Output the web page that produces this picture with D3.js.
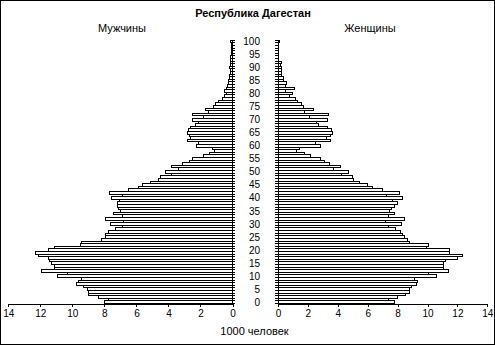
<!DOCTYPE html>
<html><head><meta charset="utf-8">
<script src="https://cdn.jsdelivr.net/npm/d3@7"></script>
<style>
body{margin:0;background:#fff;}
text{font-family:Arial,"Liberation Sans",sans-serif;fill:#000;}
</style></head>
<body><svg id="c" width="495" height="345"></svg>
<script>
const title = "Республика Дагестан";
const maleLabel = "Мужчины";
const femaleLabel = "Женщины";
const xTitle = "1000 человек";
const ages = d3.range(0, 101);
const ageTickLabels = [0,5,10,15,20,25,30,35,40,45,50,55,60,65,70,75,80,85,90,95,100];
const xTickValues = [0,2,4,6,8,10,12,14];
const males = [8.0,7.75,8.35,9.0,9.0,9.05,9.3,9.75,9.6,9.4,
 10.9,10.3,11.9,11.1,11.1,11.3,11.4,11.5,12.1,12.3,
 11.5,11.1,9.5,9.4,8.2,7.9,7.9,7.75,7.3,6.85,
 7.6,6.8,7.9,6.9,7.45,7.0,7.1,7.2,7.2,7.05,
 7.55,6.9,7.7,6.5,5.85,5.6,5.1,4.6,4.5,3.8,
 4.2,3.4,3.8,3.1,2.7,2.5,1.8,1.45,1.1,1.25,
 2.25,2.1,2.8,2.65,2.7,2.8,2.75,2.6,2.3,2.1,
 2.5,1.8,2.5,1.5,1.7,1.2,1.05,0.85,0.65,0.5,
 0.4,0.5,0.35,0.3,0.25,0.25,0.2,0.2,0.15,0.15,
 0.2,0.12,0.1,0.1,0.1,0.08,0.07,0.06,0.05,0.05,0.1];
const females = [7.8,7.4,8.0,8.5,8.8,8.8,8.93,9.27,9.33,9.13,
 10.6,10.07,11.4,11.1,11.1,11.1,11.2,12.0,12.33,11.5,
 11.45,9.9,10.07,8.8,8.67,8.47,8.33,8.18,7.87,7.38,
 8.27,7.18,8.47,7.38,7.78,7.44,7.58,7.8,8.0,7.64,
 8.3,7.24,8.1,7.0,6.33,5.98,5.47,5.04,4.98,4.24,
 4.73,3.7,4.19,3.43,3.1,2.85,2.18,1.8,1.25,1.43,
 2.85,2.5,3.5,3.23,3.5,3.66,3.6,3.3,2.7,2.6,
 3.3,2.1,3.4,1.8,2.4,1.7,1.6,1.3,1.2,0.75,
 1.0,0.5,1.1,0.5,0.55,0.35,0.35,0.25,0.25,0.25,
 0.25,0.2,0.22,0.05,0.05,0.05,0.05,0.05,0.05,0.05,0.1];

const svg = d3.select("#c");
svg.append("rect").attr("x",0.5).attr("y",0.5).attr("width",494).attr("height",344)
  .attr("fill","#fff").attr("stroke","#000");

const y = d3.scaleBand().domain(ages.slice().reverse()).range([40.2, 303.6]).paddingInner(0);
const xL = d3.scaleLinear().domain([0,14]).range([232.5, 8.3]);
const xR = d3.scaleLinear().domain([0,14]).range([278, 487.3]);

const data = ages.map((a,i)=>({age:a, m:males[i], f:females[i]}));

svg.append("g").selectAll("rect").data(data).join("rect")
  .attr("x", d=>xL(d.m)).attr("y", d=>y(d.age))
  .attr("width", d=>xL(0)-xL(d.m)).attr("height", y.bandwidth())
  .attr("fill","#fff").attr("stroke","#000").attr("stroke-width",1)
  .attr("shape-rendering","crispEdges");
svg.append("g").selectAll("rect").data(data).join("rect")
  .attr("x", xR(0)).attr("y", d=>y(d.age))
  .attr("width", d=>xR(d.f)-xR(0)).attr("height", y.bandwidth())
  .attr("fill","#fff").attr("stroke","#000").attr("stroke-width",1)
  .attr("shape-rendering","crispEdges");

// vertical axes
const yTop = y.range()[0], yBot = y.range()[1];
const bounds = ages.map(a=>y(a)).concat([yBot]);
const vL = svg.append("g").attr("shape-rendering","crispEdges");
vL.append("line").attr("x1",xL(0)).attr("x2",xL(0)).attr("y1",yTop).attr("y2",yBot).attr("stroke","#000");
vL.selectAll("line.t").data(bounds).join("line").attr("class","t")
  .attr("x1",xL(0)).attr("x2",xL(0)+2).attr("y1",d=>d).attr("y2",d=>d).attr("stroke","#000");
const vR = svg.append("g").attr("shape-rendering","crispEdges");
vR.append("line").attr("x1",xR(0)).attr("x2",xR(0)).attr("y1",yTop).attr("y2",yBot).attr("stroke","#000");
vR.selectAll("line.t").data(bounds).join("line").attr("class","t")
  .attr("x1",xR(0)-3).attr("x2",xR(0)).attr("y1",d=>d).attr("y2",d=>d).attr("stroke","#000");

// age labels
svg.append("g").selectAll("text").data(ageTickLabels).join("text")
  .attr("x",260).attr("y",d=>y(d)+y.bandwidth()/2).attr("dy","0.35em")
  .attr("text-anchor","end").attr("font-size","10px").text(d=>d);

// bottom axes
const axL = svg.append("g").attr("transform",`translate(0,${yBot})`)
  .call(d3.axisBottom(xL).tickValues(xTickValues).tickSizeOuter(0).tickSize(3).tickPadding(3));
const axR = svg.append("g").attr("transform",`translate(0,${yBot})`)
  .call(d3.axisBottom(xR).tickValues(xTickValues).tickSizeOuter(0).tickSize(3).tickPadding(3));
[axL,axR].forEach(ax=>{
  ax.selectAll("text").attr("font-size","10px").attr("font-family",'Arial,"Liberation Sans",sans-serif').attr("fill","#000");
  ax.selectAll("line,path").attr("stroke","#000").attr("shape-rendering","crispEdges");
});

svg.append("text").attr("x",253).attr("y",17).attr("text-anchor","middle")
  .attr("font-size","11px").attr("font-weight","bold").text(title);
svg.append("text").attr("x",122).attr("y",32).attr("text-anchor","middle")
  .attr("font-size","11px").text(maleLabel);
svg.append("text").attr("x",370).attr("y",32).attr("text-anchor","middle")
  .attr("font-size","11px").text(femaleLabel);
svg.append("text").attr("x",254.5).attr("y",335).attr("text-anchor","middle")
  .attr("font-size","11px").text(xTitle);
</script></body></html>
